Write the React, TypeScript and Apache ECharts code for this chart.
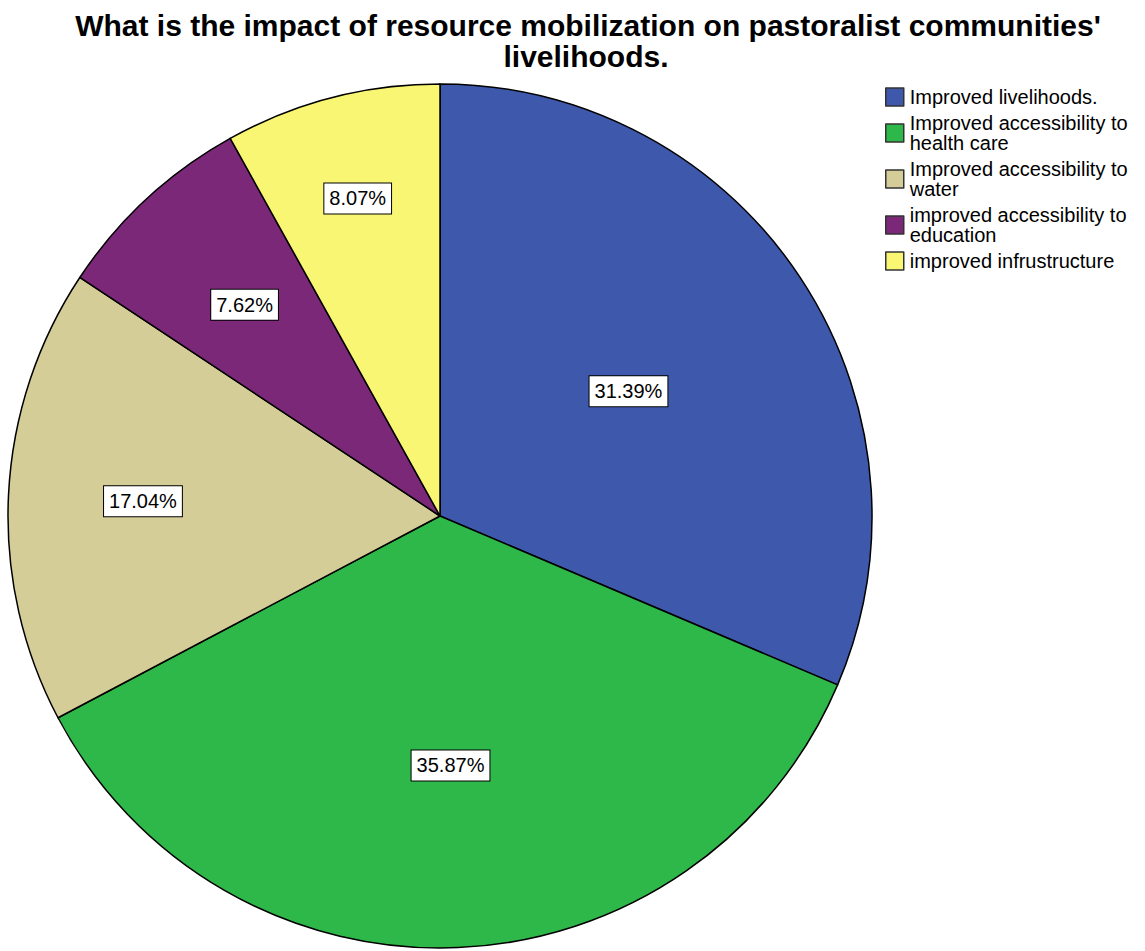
import React, { useEffect, useRef } from "react";
import * as echarts from "echarts";

const categories = [
  "Improved livelihoods.",
  "Improved accessibility to\nhealth care",
  "Improved accessibility to\nwater",
  "improved accessibility to\neducation",
  "improved infrustructure",
];
const percentages = [31.39, 35.87, 17.04, 7.62, 8.07];
const titleLines = [
  "What is the impact of resource mobilization on pastoralist communities'",
  "livelihoods.",
];

const colors = ["#3e58ac", "#2fb84a", "#d4cd97", "#7b2879", "#f9f674"];
// distance of each label from the centre, as a fraction of the radius
const labelRadiusFrac = [0.516, 0.57, 0.679, 0.657, 0.749];

const CENTER: [number, number] = [440, 516];
const RADIUS = 432;
const FONT = '"Liberation Sans", Arial, sans-serif';

export default function App() {
  const ref = useRef<HTMLDivElement>(null);
  useEffect(() => {
    if (!ref.current) return;
    const chart = echarts.init(ref.current, undefined, { renderer: "svg" });
    chart.setOption({
      animation: false,
      backgroundColor: "#ffffff",
      graphic: [
        {
          type: "text",
          x: 588,
          y: 25.5,
          style: {
            text: titleLines[0],
            font: `bold 30px ${FONT}`,
            fill: "#000",
            align: "center",
            verticalAlign: "middle",
          },
        },
        {
          type: "text",
          x: 586,
          y: 56.5,
          style: {
            text: titleLines[1],
            font: `bold 30px ${FONT}`,
            fill: "#000",
            align: "center",
            verticalAlign: "middle",
          },
        },
      ],
      legend: {
        orient: "vertical",
        left: 885,
        top: 87,
        padding: 0,
        itemGap: 6,
        itemWidth: 18,
        itemHeight: 18,
        icon: "rect",
        selectedMode: false,
        itemStyle: { borderColor: "#333", borderWidth: 1.5 },
        textStyle: {
          fontFamily: FONT,
          fontSize: 20,
          lineHeight: 20,
          color: "#000",
          padding: [0, 0, 0, 1],
        },
        data: categories,
      },
      series: [
        {
          type: "pie",
          center: CENTER,
          radius: RADIUS,
          startAngle: 90,
          clockwise: true,
          silent: true,
          itemStyle: { borderColor: "#000", borderWidth: 1.5 },
          label: {
            show: true,
            position: "inside",
            formatter: (p: any) => `${percentages[p.dataIndex].toFixed(2)}%`,
            fontFamily: FONT,
            fontSize: 20,
            lineHeight: 20,
            color: "#000",
            backgroundColor: "#ffffff",
            borderColor: "#000",
            borderWidth: 1,
            padding: [5, 5],
          },
          labelLayout: (params: any) => {
            const r = params.labelRect;
            const cx = r.x + r.width / 2;
            const cy = r.y + r.height / 2;
            const vx = cx - CENTER[0];
            const vy = cy - CENTER[1];
            const k = labelRadiusFrac[params.dataIndex] / 0.5 - 1;
            return { dx: vx * k, dy: vy * k };
          },
          data: categories.map((name, i) => ({
            name,
            value: percentages[i],
            itemStyle: { color: colors[i] },
          })),
        },
      ],
    });
    return () => chart.dispose();
  }, []);
  return (
    <div
      ref={ref}
      style={{ position: "absolute", left: 0, top: 0, width: 1145, height: 951 }}
    />
  );
}
